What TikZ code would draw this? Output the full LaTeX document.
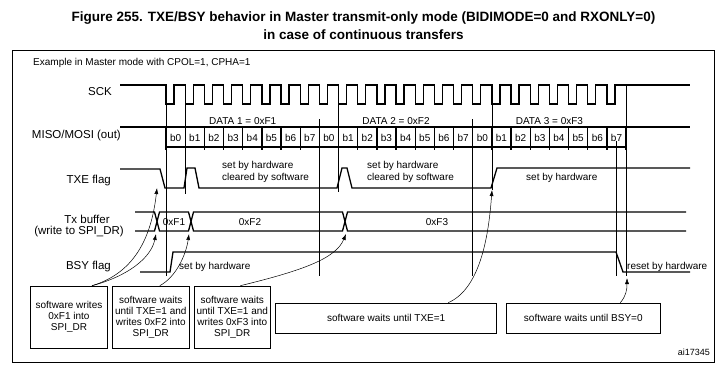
\documentclass[tikz,border=0pt]{standalone}
\usepackage{fontspec}
\setmainfont{Liberation Sans}
\usetikzlibrary{arrows.meta}

\begin{document}
\begin{tikzpicture}[
  x=1pt, y=-1pt,
  every node/.style={inner sep=0pt, font=\fontsize{10}{12}\selectfont},
  sig/.style={line width=1.3pt, line join=miter},
  guide/.style={line width=0.5pt},
  lbl/.style={font=\fontsize{11.5}{13}\selectfont, anchor=east},
  swbox/.style={draw, line width=0.6pt, align=center, inner sep=1pt, font=\fontsize{10}{11}\selectfont},
  line/.style={-{Latex[length=6pt,width=4pt]}, line width=0.5pt}
]
\useasboundingbox (0,0) rectangle (727,375);

\node[align=center, font=\fontsize{13.5}{18}\selectfont\bfseries] (title) at (363.5,26)
  {Figure 255. TXE/BSY behavior in Master transmit-only mode (BIDIMODE=0 and RXONLY=0)\\
   in case of continuous transfers};
\draw[line width=0.6pt] (12,50) rectangle (714,362);
\node[anchor=west] (example) at (33,63) {Example in Master mode with CPOL=1, CPHA=1};

% signal names
\node[lbl] (sck) at (112,92) {SCK};
\node[lbl] (mosi) at (121,136) {MISO/MOSI (out)};
\node[lbl] (txe) at (111,181) {TXE flag};
\node[font=\fontsize{11.5}{13}\selectfont] (txbuf) at (87,219) {Tx buffer};
\node[font=\fontsize{11.5}{13}\selectfont] (txbuf2) at (79,232) {(write to SPI\_DR)};
\node[lbl] (bsy) at (111,267) {BSY flag};

% SCK
\draw[sig] (120,85) foreach \i in {0,...,23} {-- ({166+19.17*\i},85) -- ({166+19.17*\i},104)
  -- ({174+19.17*\i},104) -- ({174+19.17*\i},85)} -- (690,85);

% data bits
\draw[sig] (120,127) -- (690,127);
\draw[sig] (166,147) -- (626.1,147);
\foreach \k in {0,...,24} \draw[sig] ({166+19.17*\k},127) -- ({166+19.17*\k},150);
\foreach \g in {0,1,2}
  \foreach \b in {0,...,7}
    \node (bit\g\b) at ({166+19.17*(8*\g+\b+0.5)},137.5) {b\b};
\node (data1) at (242.7,121) {DATA 1 = 0xF1};
\node (data2) at (396,121) {DATA 2 = 0xF2};
\node (data3) at (549.4,121) {DATA 3 = 0xF3};

% guide lines
\draw[guide] (166,104) -- (166,276);
\foreach \x in {319.4,472.7} \draw[guide] (\x,119) -- (\x,276);
\draw[guide] (626.1,85) -- (626.1,276);
\draw[guide] (185.2,104) -- (185.2,194);
\draw[guide] (338.6,104) -- (338.6,192);
\draw[guide] (491.9,104) -- (491.9,190);
\draw[guide] (616.5,141) -- (616.5,276);

% TXE flag
\draw[sig] (120,169) -- (160,169) -- (165,188) -- (184,188) -- (187,168) -- (195,168) -- (199,188)
  -- (337,188) -- (342,168) -- (347,168) -- (352,188) -- (491,188) -- (497,168) -- (690,168);
\node[align=left, anchor=west] (txetxt1) at (222,172) {set by hardware\\cleared by software};
\node[align=left, anchor=west] (txetxt2) at (367,172) {set by hardware\\cleared by software};
\node[anchor=west] (txetxt3) at (526,178) {set by hardware};

% Tx buffer
\draw[sig] (135,212) -- (154.5,212) -- (159.5,231) -- (188.5,231) -- (193.5,212) -- (342.5,212)
  -- (347.5,231) -- (686,231);
\draw[sig] (135,231) -- (154.5,231) -- (159.5,212) -- (188.5,212) -- (193.5,231) -- (342.5,231)
  -- (347.5,212) -- (686,212);
\node (valF1) at (174,222) {0xF1};
\node (valF2) at (250,222) {0xF2};
\node (valF3) at (437,222) {0xF3};

% BSY flag
\draw[sig] (140,272) -- (170,272) -- (173,252) -- (616,252) -- (623,272) -- (690,272);
\node[anchor=west] (bsyset) at (179,267) {set by hardware};
\node[anchor=west] (bsyreset) at (627,267) {reset by hardware};

% software boxes
\node[swbox, minimum width=76.6pt, minimum height=62pt] (swA) at (69,317)
  {software writes\\0xF1 into\\SPI\_DR};
\node[swbox, minimum width=77pt, minimum height=62pt] (swB) at (150.8,317)
  {software waits\\until TXE=1 and\\writes 0xF2 into\\SPI\_DR};
\node[swbox, minimum width=76.7pt, minimum height=62pt] (swC) at (232.3,317)
  {software waits\\until TXE=1 and\\writes 0xF3 into\\SPI\_DR};
\node[swbox, minimum width=221pt, minimum height=30pt] (swD) at (386.2,318) {software waits until TXE=1};
\node[swbox, minimum width=153.3pt, minimum height=30pt] (swE) at (583.3,318) {software waits until BSY=0};
\node[anchor=east, font=\fontsize{9}{10}\selectfont] (ref) at (710,352) {ai17345};

% Arrows
\coordinate (txeA) at (157,188);
\coordinate (bufA) at (156,234);
\coordinate (bufB) at (189,234);
\coordinate (bufC) at (346,234);
\coordinate (txeC) at (492,190);
\coordinate (bsyE) at (627,278);
\draw[line] ([xshift=23pt]swA.north) .. controls (128,276) and (151,258) .. (bufA);
\draw[line] ([xshift=23pt]swA.north) .. controls (138,272) and (152,232) .. (txeA);
\draw[line] ([xshift=9pt]swB.north) .. controls (176,277) and (186,255) .. (bufB);
\draw[line] ([xshift=8pt]swC.north) .. controls (305,270) and (336,258) .. (bufC);
\draw[line] ([xshift=62pt]swD.north) .. controls (482,288) and (489,230) .. (txeC);
\draw[line] ([xshift=37pt]swE.north) .. controls (626,296) and (627,290) .. (bsyE);

\end{tikzpicture}
\end{document}
